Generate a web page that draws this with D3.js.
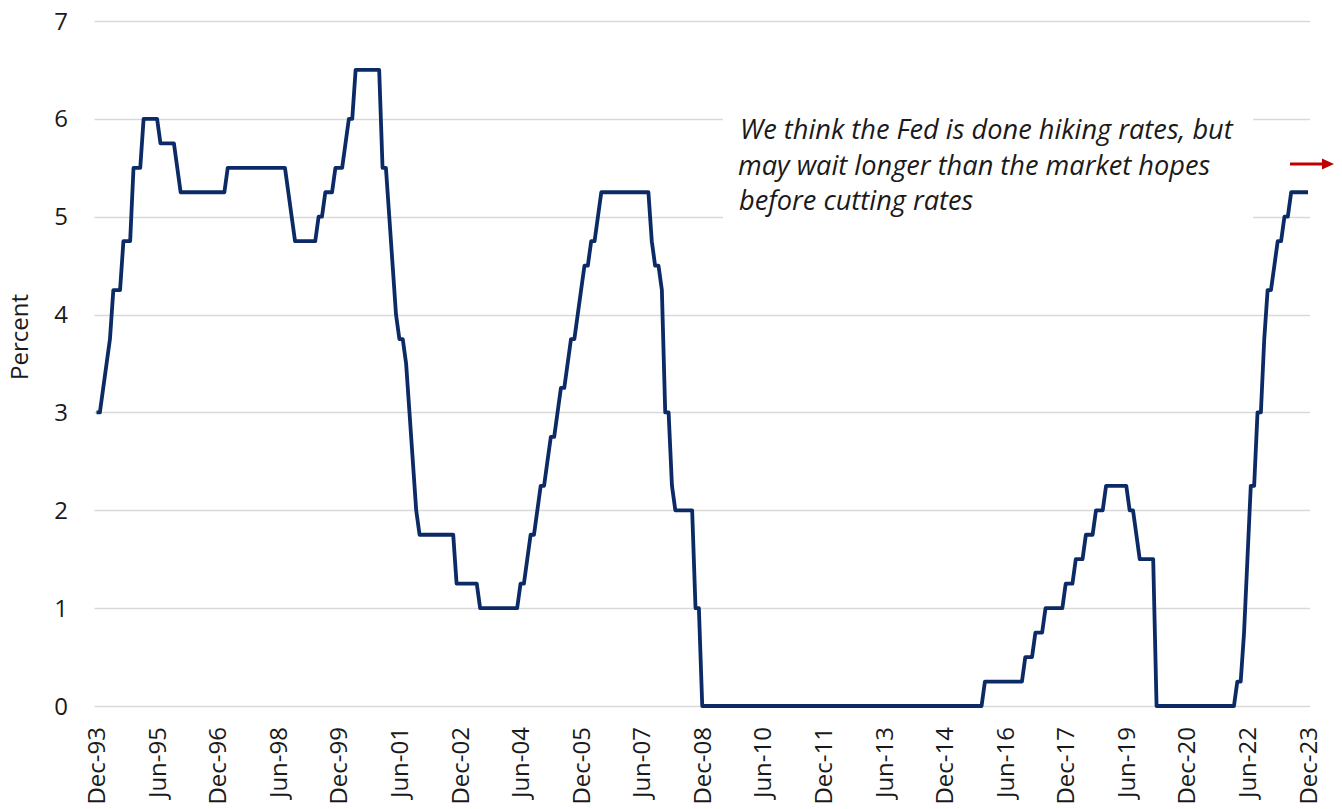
<!DOCTYPE html>
<html>
<head>
<meta charset="utf-8">
<script src="https://cdn.jsdelivr.net/npm/d3@7"></script>
<style>
  html, body { margin: 0; padding: 0; background: #ffffff; }
  svg { display: block; }
  text { font-family: "Open Sans", "Noto Sans", sans-serif; fill: #1a1a1a; }
</style>
</head>
<body>
<svg id="chart" width="1342" height="809"></svg>
<script>
// Month index 0 = Dec-93 ... 360 = Dec-23 (end-of-month fed funds target, lower bound)
const rates1993 = [3.00];
const rates1994 = [3.00, 3.25, 3.50, 3.75, 4.25, 4.25, 4.25, 4.75, 4.75, 4.75, 5.50, 5.50];
const rates1995 = [5.50, 6.00, 6.00, 6.00, 6.00, 6.00, 5.75, 5.75, 5.75, 5.75, 5.75, 5.50];
const rates1996 = [5.25, 5.25, 5.25, 5.25, 5.25, 5.25, 5.25, 5.25, 5.25, 5.25, 5.25, 5.25];
const rates1997 = [5.25, 5.25, 5.50, 5.50, 5.50, 5.50, 5.50, 5.50, 5.50, 5.50, 5.50, 5.50];
const rates1998 = [5.50, 5.50, 5.50, 5.50, 5.50, 5.50, 5.50, 5.50, 5.25, 5.00, 4.75, 4.75];
const rates1999 = [4.75, 4.75, 4.75, 4.75, 4.75, 5.00, 5.00, 5.25, 5.25, 5.25, 5.50, 5.50];
const rates2000 = [5.50, 5.75, 6.00, 6.00, 6.50, 6.50, 6.50, 6.50, 6.50, 6.50, 6.50, 6.50];
const rates2001 = [5.50, 5.50, 5.00, 4.50, 4.00, 3.75, 3.75, 3.50, 3.00, 2.50, 2.00, 1.75];
const rates2002 = [1.75, 1.75, 1.75, 1.75, 1.75, 1.75, 1.75, 1.75, 1.75, 1.75, 1.25, 1.25];
const rates2003 = [1.25, 1.25, 1.25, 1.25, 1.25, 1.00, 1.00, 1.00, 1.00, 1.00, 1.00, 1.00];
const rates2004 = [1.00, 1.00, 1.00, 1.00, 1.00, 1.25, 1.25, 1.50, 1.75, 1.75, 2.00, 2.25];
const rates2005 = [2.25, 2.50, 2.75, 2.75, 3.00, 3.25, 3.25, 3.50, 3.75, 3.75, 4.00, 4.25];
const rates2006 = [4.50, 4.50, 4.75, 4.75, 5.00, 5.25, 5.25, 5.25, 5.25, 5.25, 5.25, 5.25];
const rates2007 = [5.25, 5.25, 5.25, 5.25, 5.25, 5.25, 5.25, 5.25, 4.75, 4.50, 4.50, 4.25];
const rates2008 = [3.00, 3.00, 2.25, 2.00, 2.00, 2.00, 2.00, 2.00, 2.00, 1.00, 1.00, 0.00];
const rates2009 = [0, 0, 0, 0, 0, 0, 0, 0, 0, 0, 0, 0];
const rates2010 = [0, 0, 0, 0, 0, 0, 0, 0, 0, 0, 0, 0];
const rates2011 = [0, 0, 0, 0, 0, 0, 0, 0, 0, 0, 0, 0];
const rates2012 = [0, 0, 0, 0, 0, 0, 0, 0, 0, 0, 0, 0];
const rates2013 = [0, 0, 0, 0, 0, 0, 0, 0, 0, 0, 0, 0];
const rates2014 = [0, 0, 0, 0, 0, 0, 0, 0, 0, 0, 0, 0];
const rates2015 = [0, 0, 0, 0, 0, 0, 0, 0, 0, 0, 0, 0.25];
const rates2016 = [0.25, 0.25, 0.25, 0.25, 0.25, 0.25, 0.25, 0.25, 0.25, 0.25, 0.25, 0.50];
const rates2017 = [0.50, 0.50, 0.75, 0.75, 0.75, 1.00, 1.00, 1.00, 1.00, 1.00, 1.00, 1.25];
const rates2018 = [1.25, 1.25, 1.50, 1.50, 1.50, 1.75, 1.75, 1.75, 2.00, 2.00, 2.00, 2.25];
const rates2019 = [2.25, 2.25, 2.25, 2.25, 2.25, 2.25, 2.00, 2.00, 1.75, 1.50, 1.50, 1.50];
const rates2020 = [1.50, 1.50, 0, 0, 0, 0, 0, 0, 0, 0, 0, 0];
const rates2021 = [0, 0, 0, 0, 0, 0, 0, 0, 0, 0, 0, 0];
const rates2022 = [0, 0, 0.25, 0.25, 0.75, 1.50, 2.25, 2.25, 3.00, 3.00, 3.75, 4.25];
const rates2023 = [4.25, 4.50, 4.75, 4.75, 5.00, 5.00, 5.25, 5.25, 5.25, 5.25, 5.25, 5.25];

const xTickLabels = ["Dec-93","Jun-95","Dec-96","Jun-98","Dec-99","Jun-01","Dec-02","Jun-04",
  "Dec-05","Jun-07","Dec-08","Jun-10","Dec-11","Jun-13","Dec-14","Jun-16","Dec-17","Jun-19",
  "Dec-20","Jun-22","Dec-23"];
const yTicks = [0, 1, 2, 3, 4, 5, 6, 7];
const yTitle = "Percent";
const noteLines = ["We think the Fed is done hiking rates,  but",
                   "may wait longer than the market hopes",
                   "before cutting rates"];

const rates = [].concat(rates1993, rates1994, rates1995, rates1996, rates1997, rates1998,
  rates1999, rates2000, rates2001, rates2002, rates2003, rates2004, rates2005, rates2006,
  rates2007, rates2008, rates2009, rates2010, rates2011, rates2012, rates2013, rates2014,
  rates2015, rates2016, rates2017, rates2018, rates2019, rates2020, rates2021, rates2022,
  rates2023);
const series = rates.map((v, i) => ({ m: i, v: v }));

const svg = d3.select("#chart");
const x = d3.scaleLinear().domain([0, 360]).range([96.5, 1308]);
const y = d3.scaleLinear().domain([0, 7]).range([706, 21]);

// gridlines
const grid = svg.append("g");
grid.selectAll("line").data(yTicks).join("line")
  .attr("x1", x(0) - 2).attr("x2", x(360) + 2)
  .attr("y1", d => Math.round(y(d)) + 0.5).attr("y2", d => Math.round(y(d)) + 0.5)
  .attr("stroke", "#d9d9d9").attr("stroke-width", 1.5);

// y tick labels
svg.append("g").selectAll("text").data(yTicks).join("text")
  .attr("x", 68).attr("y", d => y(d)).attr("dy", "0.36em")
  .attr("text-anchor", "end").style("font-size", "24px")
  .text(d => d);

// y title
svg.append("text")
  .attr("transform", "translate(19,337) rotate(-90)")
  .attr("text-anchor", "middle").attr("dy", "0.36em")
  .style("font-size", "24px").text(yTitle);

// x tick labels (every 18 months)
svg.append("g").selectAll("text").data(xTickLabels).join("text")
  .attr("transform", (d, i) => `translate(${x(i * 18)},727) rotate(-90)`)
  .attr("text-anchor", "end").attr("dy", "0.36em")
  .style("font-size", "24px").text(d => d);

// annotation box (white, covers gridlines)
svg.append("rect").attr("x", 723).attr("y", 104).attr("width", 530).attr("height", 124)
  .attr("fill", "#ffffff");

const note = svg.append("g");
const noteX = [740, 738, 739];
const noteY = [139, 174.5, 210];
const nt = note.selectAll("text").data(noteLines).join("text")
  .attr("x", (d, i) => noteX[i]).attr("y", (d, i) => noteY[i])
  .style("font-style", "italic").style("font-size", "22px").text(d => d);
const w0 = nt.nodes()[0].getComputedTextLength();
const fs = 22 * 493 / w0;
nt.style("font-size", fs + "px");

// rate line
const line = d3.line().x(d => x(d.m)).y(d => y(d.v));
svg.append("path").datum(series)
  .attr("d", line).attr("fill", "none")
  .attr("stroke", "#0b2a66").attr("stroke-width", 3.8)
  .attr("stroke-linejoin", "round");

// red arrow
svg.append("line").attr("x1", 1290).attr("x2", 1324).attr("y1", 164).attr("y2", 164)
  .attr("stroke", "#c00000").attr("stroke-width", 3);
svg.append("path").attr("d", "M1322,158.5 L1334,164 L1322,169.5 Z").attr("fill", "#c00000");
</script>
</body>
</html>
